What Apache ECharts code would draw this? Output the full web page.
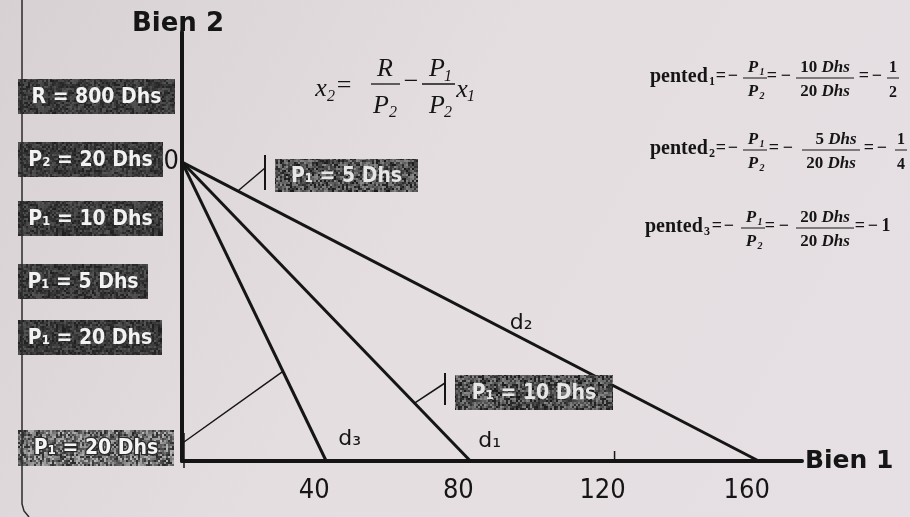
<!DOCTYPE html>
<html>
<head>
<meta charset="utf-8">
<script src="https://cdn.jsdelivr.net/npm/echarts@6.0.0/dist/echarts.min.js"></script>
<style>
  html, body { margin: 0; padding: 0; background: #e2dcdf; }
  #chart { width: 910px; height: 517px; }
</style>
</head>
<body>
<div id="chart"></div>
<script>
// Budget lines x2 = R/P2 - (P1/P2) x1 with R = 800 Dhs, P2 = 20 Dhs
const xTicks = [40, 80, 120, 160];
const yTicks = [40];
const lineNames = ['d₁', 'd₂', 'd₃'];
const d1 = [[0, 40], [80, 0]];    // P1 = 10 Dhs
const d2 = [[0, 40], [160, 0]];   // P1 = 5 Dhs
const d3 = [[0, 40], [40, 0]];    // P1 = 20 Dhs
const sideLabels = ['R = 800 Dhs', 'P₂ = 20 Dhs', 'P₁ = 10 Dhs', 'P₁ = 5 Dhs', 'P₁ = 20 Dhs'];
const calloutLabels = ['P₁ = 5 Dhs', 'P₁ = 10 Dhs', 'P₁ = 20 Dhs'];

const INK = '#151515';
const SANS = '"DejaVu Sans", Verdana, sans-serif';
const SANS_C = '"DejaVu Sans Condensed", "DejaVu Sans", sans-serif';
const SERIF = '"Liberation Serif", "Times New Roman", serif';

// grainy fill for the label plates (2x2 px grains)
function grain(base, amp, seed) {
  const n = 96;
  const c = document.createElement('canvas');
  c.width = c.height = n;
  const ctx = c.getContext('2d');
  let s = seed;
  for (let j = 0; j < n; j += 2) {
    for (let i = 0; i < n; i += 2) {
      s = (s * 1103515245 + 12345) & 0x7fffffff;
      const v = Math.max(0, Math.min(255, base + ((s >> 9) % (2 * amp + 1)) - amp));
      ctx.fillStyle = 'rgb(' + v + ',' + v + ',' + v + ')';
      ctx.fillRect(i, j, 2, 2);
    }
  }
  return { image: c, repeat: 'repeat' };
}
const darkFill = grain(58, 28, 7);
const mottledFill = grain(80, 58, 19);
const lightFill = grain(112, 72, 31);

function txt(x, y, text, font, opts) {
  opts = opts || {};
  const align = opts.align || 'center';
  return {
    type: 'text', z: 60, silent: true,
    style: Object.assign({
      text: text, x: x, y: y, font: font, fill: INK,
      align: align, verticalAlign: 'middle',
      textAlign: align, textVerticalAlign: 'middle'
    }, opts.style || {})
  };
}
function seg(x1, y1, x2, y2, w, color) {
  return { type: 'line', z: 60, silent: true, shape: { x1, y1, x2, y2 },
           style: { stroke: color || INK, lineWidth: w || 1 } };
}
function plate(x, y, w, h, fill, label, textFill, stroke) {
  const st = { fill: textFill || '#f2f2f2' };
  if (stroke) { st.stroke = stroke; st.lineWidth = 2.5; }
  return [
    { type: 'rect', z: 55, silent: true, shape: { x, y, width: w, height: h }, style: { fill: fill } },
    txt(x + w / 2, y + h / 2 + 1, label, 'bold 21px ' + SANS_C, { style: st })
  ];
}

const chart = echarts.init(document.getElementById('chart'));

chart.setOption({
  animation: false,
  backgroundColor: 'transparent',
  grid: { left: 182, right: 108, top: 32, bottom: 56 },
  xAxis: {
    type: 'value', min: 0, max: 172, interval: 40,
    name: 'Bien 1', nameLocation: 'end', nameGap: 3,
    nameTextStyle: { fontFamily: SANS, fontWeight: 'bold', fontSize: 25, color: INK,
                     verticalAlign: 'middle', padding: [24, 0, 0, 0] },
    axisLine: { lineStyle: { color: INK, width: 4 } },
    axisTick: { show: false },
    splitLine: { show: false },
    axisLabel: {
      fontFamily: SANS_C, fontSize: 27, color: INK, margin: 16, padding: [0, 24, 0, 0],
      formatter: v => (xTicks.includes(v) ? String(v) : '')
    }
  },
  yAxis: {
    type: 'value', min: 0, max: 57.4, interval: 40,
    name: 'Bien 2', nameLocation: 'end', nameGap: -5,
    nameTextStyle: { fontFamily: SANS, fontWeight: 'bold', fontSize: 26, color: INK,
                     align: 'center', padding: [0, 8, 0, 0] },
    axisLine: { lineStyle: { color: INK, width: 4 } },
    axisTick: { show: false },
    splitLine: { show: false },
    axisLabel: {
      fontFamily: SANS_C, fontSize: 27, color: INK, margin: 3, padding: [0, 0, 20, 0],
      formatter: v => (yTicks.includes(v) ? String(v) : '')
    }
  },
  series: [d1, d2, d3].map((d, i) => ({
    type: 'line', name: lineNames[i], data: d,
    showSymbol: false, symbol: 'none', silent: true, z: 3,
    lineStyle: { color: INK, width: 3 }
  }))
});

// point on a drawn line at a given x1, taken from the series' own end points
function onLine(d, x) {
  const [a, b] = d;
  const y = a[1] + (b[1] - a[1]) * (x - a[0]) / (b[0] - a[0]);
  return chart.convertToPixel({ gridIndex: 0 }, [x, y]);
}
const px = p => chart.convertToPixel({ gridIndex: 0 }, p);

const g = [];
// paper background and page edge
g.push({ type: 'rect', z: -10, silent: true, shape: { x: 0, y: 0, width: 910, height: 517 },
  style: { fill: new echarts.graphic.LinearGradient(0, 0, 1, 1, [
    { offset: 0, color: '#d7d1d4' }, { offset: 0.45, color: '#e4dee1' }, { offset: 1, color: '#e6e0e4' }]) } });
g.push({ type: 'polyline', z: 60, silent: true,
  shape: { points: [[22, 0], [22, 504], [24, 511], [29, 517]] },
  style: { stroke: '#2b2b2b', lineWidth: 1.5, fill: null } });

// tick on the x axis at 120
const t120 = px([120, 0]);
g.push(seg(t120[0], t120[1] - 10, t120[0], t120[1], 1.5));

// left column of plates
const rows = [[79, 157], [142, 145], [201, 145], [264, 130], [320, 144]];
rows.forEach((r, i) => g.push(...plate(18, r[0], r[1], 35, darkFill, sideLabels[i])));
g.push(...plate(18, 430, 156, 36, lightFill, calloutLabels[2], '#f4f4f4', '#2a2a2a'));

// callout plates with their pointers
g.push(...plate(275, 159, 143, 33, mottledFill, calloutLabels[0], '#e6e6e6'));
g.push(...plate(455, 375, 158, 35, mottledFill, calloutLabels[1], '#e6e6e6'));

const a2 = onLine(d2, 15.5);
g.push(seg(265, 155, 265, 190, 2));
g.push(seg(265, 168, a2[0], a2[1], 1.5));
const a1 = onLine(d1, 64.5);
g.push(seg(445, 373, 445, 405, 2));
g.push(seg(445, 383, a1[0], a1[1], 1.5));
const a3 = onLine(d3, 28);
g.push(seg(184, 433, 184, 468, 1.5));
g.push(seg(184, 442, a3[0], a3[1], 1.5));

// line names
const dFont = '22px ' + SANS;
const e3 = px(d3[1]); g.push(txt(e3[0] + 12, e3[1] - 22, lineNames[2], dFont, { align: 'left' }));
const e1 = px(d1[1]); g.push(txt(e1[0] + 8, e1[1] - 20, lineNames[0], dFont, { align: 'left' }));
const m2 = onLine(d2, 94); g.push(txt(m2[0] - 11, m2[1] - 14, lineNames[1], dFont, { align: 'left' }));

// budget line equation
const IT = 'italic 26px ' + SERIF, ITS = 'italic 16px ' + SERIF, UP = '26px ' + SERIF;
g.push(txt(321, 89, 'x', IT), txt(331, 97, '2', ITS), txt(344, 86, '=', UP));
g.push(seg(371, 84, 400, 84, 1.3), txt(385, 69, 'R', IT), txt(381, 106, 'P', IT), txt(393, 113, '2', ITS));
g.push(txt(411, 82, '−', UP));
g.push(seg(422, 84, 455, 84, 1.3), txt(437, 69, 'P', IT), txt(448, 77, '1', ITS),
       txt(437, 106, 'P', IT), txt(448, 113, '2', ITS));
g.push(txt(462, 90, 'x', IT), txt(471, 97, '1', ITS));

// slopes
const PB = 'bold 20px ' + SERIF, SB = 'bold 12px ' + SERIF, FB = 'bold italic 17px ' + SERIF,
      FS = 'bold italic 10px ' + SERIF, OP = 'bold 18px ' + SERIF;
function ratio(cx, by, n, d) {
  // P1 over P2
  g.push(seg(cx - 12, by, cx + 12, by, 1), txt(cx - 2, by - 10, 'P', FB), txt(cx + 7, by - 6, n, FS),
         txt(cx - 2, by + 14, 'P', FB), txt(cx + 7, by + 18, d, FS));
}
function dhs(cx, y, num) {
  g.push({ type: 'text', z: 60, silent: true, style: {
    text: '{n|' + num + ' }{u|Dhs}', x: cx, y: y, align: 'center', verticalAlign: 'middle',
    textAlign: 'center', textVerticalAlign: 'middle', fill: INK,
    rich: { n: { font: 'bold 17px ' + SERIF, fill: INK }, u: { font: 'bold italic 17px ' + SERIF, fill: INK } } } });
}
function slopeRow(left, by, k, pos, num, den, tail) {
  g.push(txt(left, by - 1, 'pented', PB, { align: 'left' }), txt(left + 62, by + 4, k, SB));
  g.push(txt(pos[0], by - 2, '=', OP), txt(pos[0] + 12, by - 2, '−', OP));
  ratio(pos[1], by, '1', '2');
  g.push(txt(pos[2], by - 2, '=', OP), txt(pos[2] + 14, by - 2, '−', OP));
  g.push(seg(pos[3] - 29, by, pos[3] + 29, by, 1));
  dhs(pos[3] + (num.length === 1 ? 5 : 0), by - 10, num);
  dhs(pos[3], by + 14, den);
  g.push(txt(pos[4], by - 2, '=', OP), txt(pos[4] + 13, by - 2, '−', OP));
  if (tail.length === 2) {
    g.push(seg(pos[5] - 6, by, pos[5] + 6, by, 1), txt(pos[5], by - 10, tail[0], 'bold 16px ' + SERIF),
           txt(pos[5], by + 15, tail[1], 'bold 16px ' + SERIF));
  } else {
    g.push(txt(pos[5], by - 2, tail[0], 'bold 18px ' + SERIF));
  }
}
slopeRow(650, 78, '1', [721, 755, 772, 825, 864, 893], '10', '20', ['1', '2']);
slopeRow(650, 150, '2', [721, 755, 774, 831, 869, 901], '5', '20', ['1', '4']);
slopeRow(645, 228, '3', [717, 753, 770, 825, 860, 886], '20', '20', ['1']);

chart.setOption({ graphic: { elements: g } });
</script>
</body>
</html>
